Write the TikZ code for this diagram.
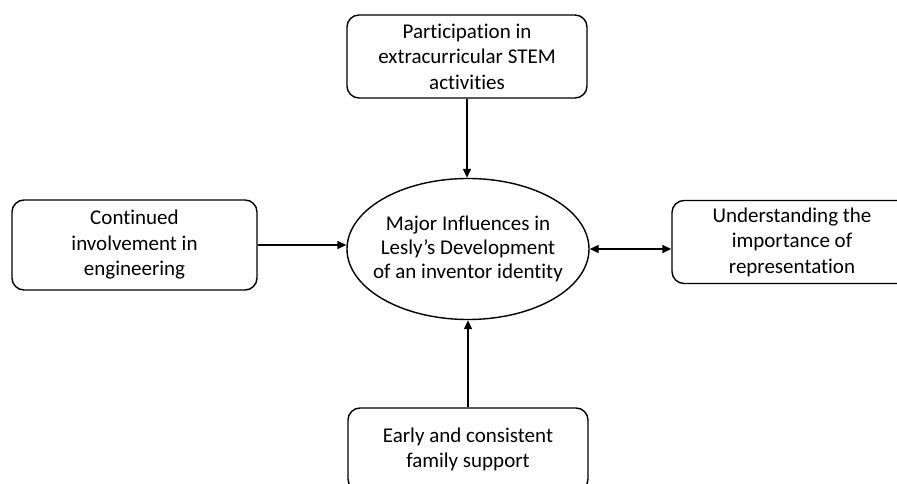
\documentclass[tikz,border=0pt]{standalone}
\usepackage{fontspec}
\setmainfont{Carlito}[Ligatures=NoCommon]
\usetikzlibrary{arrows.meta, positioning, shapes.geometric}
\definecolor{boxline}{HTML}{000000}
\definecolor{boxfill}{HTML}{FFFFFF}
\tikzset{
  infl/.style  = {rectangle, rounded corners=12pt, draw=boxline, fill=boxfill,
                  line width=1.4pt, align=center, font=\fontsize{21}{25.5}\selectfont,
                  minimum width=240pt, minimum height=83pt, inner sep=3pt},
  core/.style  = {ellipse, draw=boxline, fill=boxfill, line width=1.4pt,
                  align=center, font=\fontsize{21}{24}\selectfont,
                  minimum width=242pt, minimum height=141pt,
                  inner xsep=-14pt, inner ysep=0pt},
  flow/.style  = {-{Triangle[length=9pt, width=8pt]}, line width=1.4pt, draw=boxline},
  bothflow/.style = {{Triangle[length=9pt, width=8pt]}-{Triangle[length=9pt, width=8pt]},
                  line width=1.4pt, draw=boxline},
}

\begin{document}
\begin{tikzpicture}[x=1pt, y=-1pt]
  \useasboundingbox (0,0) rectangle (897,484);
  \node[core] (main) at (468,249)
    {Major Influences in\\Lesly’s Development\\of an inventor identity};
  \node[infl] (stem) at (467,56.5)
    {Participation in\\extracurricular STEM\\activities};
  \node[infl, minimum width=245pt, minimum height=90pt] (engin) at (134.5,245)
    {Continued\\involvement in\\engineering};
  \node[infl] (repr) at (792,242)
    {Understanding the\\importance of\\representation};
  \node[infl] (family) at (468,449.5)
    {Early and consistent\\family support};

  \draw[flow] (stem.south) -- (stem.south |- main.north);
  \draw[flow] (engin.east) -- (engin.east -| main.west);
  \draw[bothflow] (main.east) -- (main.east -| repr.west);
  \draw[flow] (family.north) -- (main.south);
\end{tikzpicture}
\end{document}
